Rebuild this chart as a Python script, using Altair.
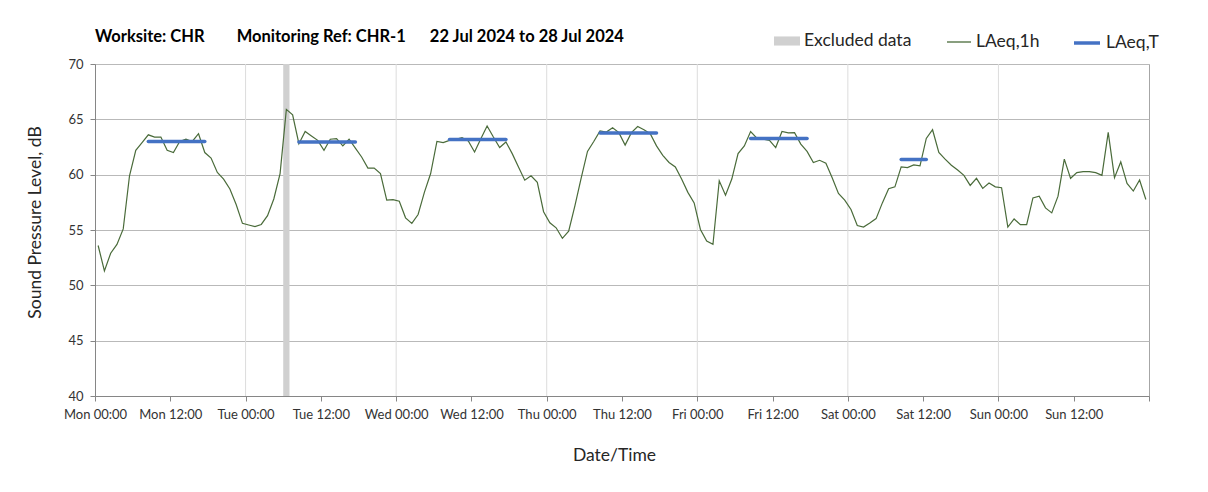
import altair as alt
import pandas as pd

# ---------------- data ----------------
MON = [53.6, 51.3, 52.9, 53.7, 55.1, 59.9, 62.2, 62.9, 63.6, 63.4, 63.4, 62.2,
       62.0, 63.0, 63.2, 63.0, 63.7, 62.0, 61.5, 60.2, 59.6, 58.7, 57.3, 55.6]
TUE = [55.45, 55.3, 55.5, 56.3, 57.8, 60.1, 65.9, 65.4, 62.8, 63.9, 63.5, 63.1,
       62.2, 63.2, 63.25, 62.6, 63.2, 62.4, 61.6, 60.6, 60.6, 60.1, 57.7, 57.75]
WED = [57.6, 56.1, 55.6, 56.4, 58.4, 60.1, 63.0, 62.9, 63.1, 63.2, 63.35, 63.05,
       62.05, 63.25, 64.4, 63.4, 62.45, 62.95, 61.9, 60.7, 59.5, 59.9, 59.3, 56.65]
THU = [55.65, 55.2, 54.25, 54.9, 57.2, 59.7, 62.1, 63.0, 63.95, 63.85, 64.23, 63.8,
       62.67, 63.8, 64.35, 64.06, 63.7, 62.6, 61.75, 61.1, 60.7, 59.6, 58.4, 57.45]
FRI = [55.05, 54.0, 53.7, 59.45, 58.15, 59.6, 61.9, 62.6, 63.9, 63.3, 63.2, 63.1,
       62.45, 63.9, 63.77, 63.8, 62.76, 62.1, 61.1, 61.3, 61.03, 59.73, 58.3, 57.7]
SAT = [56.85, 55.4, 55.27, 55.64, 56.03, 57.45, 58.73, 58.9, 60.7, 60.64, 60.88, 60.8,
       63.27, 64.06, 62.0, 61.4, 60.85, 60.42, 59.94, 59.03, 59.67, 58.76, 59.24, 58.9]
SUN = [58.82, 55.27, 56.0, 55.48, 55.48, 57.9, 58.06, 57.0, 56.55, 58.06, 61.4, 59.67,
       60.18, 60.27, 60.27, 60.18, 59.94, 63.82, 59.73, 61.15, 59.21, 58.52, 59.52, 57.76]

FIRST_READING = "2024-07-22T00:30:00Z"
AXIS_START = "2024-07-22T00:00:00Z"
AXIS_END = "2024-07-29T00:00:00Z"

EXCLUDED_START = ["2024-07-23T06:00:00Z"]
EXCLUDED_END = ["2024-07-23T07:00:00Z"]

T_START = ["2024-07-22T08:30:00Z", "2024-07-23T08:30:00Z", "2024-07-24T08:30:00Z",
           "2024-07-25T08:30:00Z", "2024-07-26T08:30:00Z", "2024-07-27T08:30:00Z"]
T_END = ["2024-07-22T17:30:00Z", "2024-07-23T17:30:00Z", "2024-07-24T17:30:00Z",
         "2024-07-25T17:30:00Z", "2024-07-26T17:30:00Z", "2024-07-27T12:30:00Z"]
T_VALUE = [63.0, 62.95, 63.18, 63.76, 63.27, 61.36]

Y_TICKS = [40, 45, 50, 55, 60, 65, 70]
NBSP = "\u00a0"
TITLE = ("Worksite: CHR" + NBSP * 8 + "Monitoring Ref: CHR-1" + NBSP * 6 +
         "22 Jul 2024 to 28 Jul 2024")

GREEN = "#4a6b3a"
BLUE = "#4472C4"
GREY = "#d0d0d0"
FONT = "Lato"


def ms(s):
    return int(pd.Timestamp(s).value // 10**6)


values = MON + TUE + WED + THU + FRI + SAT + SUN
times = pd.date_range(FIRST_READING, periods=len(values), freq="1h")
line_df = pd.DataFrame({
    "t": [t.strftime("%Y-%m-%dT%H:%M:%SZ") for t in times],
    "v": values,
    "series": "LAeq,1h",
})
t_df = pd.DataFrame({"s": T_START, "e": T_END, "v": T_VALUE, "series": "LAeq,T"})
ex_df = pd.DataFrame({"s": EXCLUDED_START, "e": EXCLUDED_END, "series": "Excluded data"})

tick_ms = [ms(t) for t in pd.date_range(AXIS_START, AXIS_END, freq="12h")]
day_lines = pd.DataFrame({
    "t": [t.strftime("%Y-%m-%dT%H:%M:%SZ")
          for t in pd.date_range(AXIS_START, AXIS_END, freq="24h")[1:-1]]
})

x_scale = alt.Scale(type="utc", domain=[ms(AXIS_START), ms(AXIS_END)])
y_scale = alt.Scale(domain=[40, 70], nice=False, zero=False)

x_axis = alt.Axis(
    values=tick_ms, format="%a %H:%M",
    labelExpr=f"datum.value >= {ms(AXIS_END)} ? '' : datum.label",
    grid=False, title="Date/Time", titleFontSize=17.5, titleFontWeight="normal",
    titleX=519, titleY=59, titleBaseline="middle",
    labelFontSize=13, labelPadding=7, tickSize=5, labelFlush=False,
    labelOverlap=False,
)
y_axis = alt.Axis(
    values=Y_TICKS, title="Sound Pressure Level, dB", titleFontSize=17.5,
    titleFontWeight="normal", titleX=-60, titleY=158, titleBaseline="middle",
    labelFontSize=13, labelPadding=7, tickSize=5, gridColor="#b9b9b9",
)

X = lambda f: alt.X(f, type="temporal", scale=x_scale, axis=x_axis)
Y = lambda f: alt.Y(f, type="quantitative", scale=y_scale, axis=y_axis)

legend_common = dict(orient="none", direction="horizontal", title=None,
                     labelFont=FONT, labelFontSize=17.5, labelColor="#262626",
                     padding=0, labelOffset=4)

grid = alt.Chart(day_lines).mark_rule(color="#dcdcdc", strokeWidth=1).encode(x=X("t"))

excluded = alt.Chart(ex_df).mark_rect().encode(
    x=X("s"), x2="e",
    fill=alt.Fill("series:N", scale=alt.Scale(domain=["Excluded data"], range=[GREY]),
                  legend=alt.Legend(symbolType="M-1,-0.35L1,-0.35L1,0.35L-1,0.35Z",
                                    symbolSize=676, symbolStrokeWidth=0,
                                    legendX=679, legendY=-36, **legend_common)),
)

line = alt.Chart(line_df).mark_line(strokeWidth=1.2).encode(
    x=X("t"), y=Y("v"),
    stroke=alt.Stroke("series:N", scale=alt.Scale(domain=["LAeq,1h"], range=[GREEN]),
                      legend=alt.Legend(symbolType="stroke", symbolSize=576,
                                        symbolStrokeWidth=1.3,
                                        legendX=851, legendY=-35, **legend_common)),
)

laeq_t = alt.Chart(t_df).mark_rule(strokeWidth=3.5, strokeCap="round").encode(
    x=X("s"), x2="e", y=Y("v"),
    stroke=alt.Stroke("series:N", scale=alt.Scale(domain=["LAeq,T"], range=[BLUE]),
                      legend=alt.Legend(symbolType="stroke", symbolSize=676,
                                        symbolStrokeWidth=3.5,
                                        legendX=977, legendY=-36, **legend_common)),
)

chart = (
    alt.layer(grid, excluded, line, laeq_t)
    .resolve_scale(stroke="independent")
    .properties(
        width=1054, height=332,
        autosize=alt.AutoSizeParams(type="none"),
        padding={"left": 87, "top": 56, "right": 51, "bottom": 88},
        title=alt.TitleParams(text=TITLE, anchor="start", frame="group", font=FONT,
                              fontSize=16.5, fontWeight="bold", color="#000000",
                              offset=18, dy=35),
    )
    .configure_view(stroke="#a6a6a6", strokeWidth=1)
    .configure_axis(domainColor="#868686", tickColor="#868686", labelFont=FONT,
                    titleFont=FONT, labelColor="#333333", titleColor="#262626")
)

chart.save("out.html", embed_options={"renderer": "svg", "actions": False})
